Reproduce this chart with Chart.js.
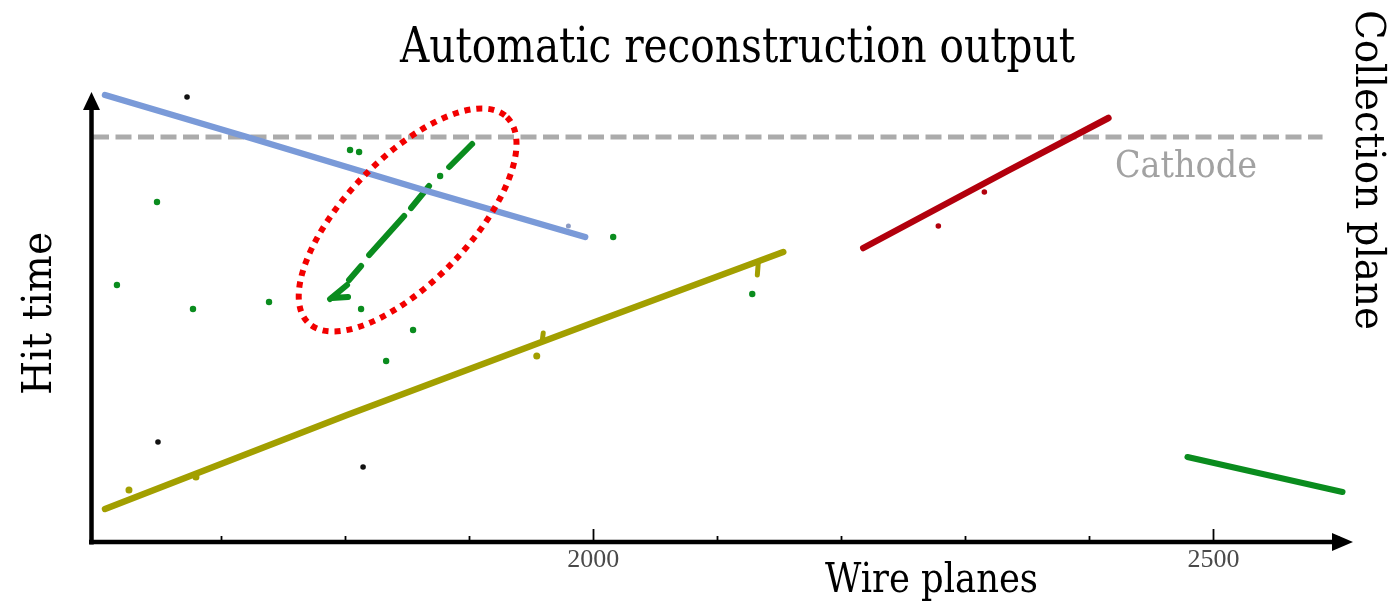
<!DOCTYPE html>
<html>
<head>
<meta charset="utf-8">
<script src="https://cdn.jsdelivr.net/npm/chart.js@4.4.1/dist/chart.umd.min.js"></script>
<style>
  html, body { margin: 0; padding: 0; background: #ffffff; }
  #wrap { width: 1397px; height: 603px; position: relative; }
</style>
</head>
<body>
<div id="wrap"><canvas id="event"></canvas></div>
<script>
// Wire-number ticks along the horizontal axis (only two carry a label)
const wireTicks = [1700, 1800, 1900, 2000, 2100, 2200, 2300, 2400, 2500, 2600];
const wireTickLabels = [2000, 2500];

// Hit time of the cathode plane
const cathodeTime = 405;

// Reconstructed tracks: wire number vs hit time (null marks a gap between hit clusters)
const blueTrackWire = [1606.5, 1721, 1866, 1993.5];
const blueTrackTime = [447, 405, 351, 305];

const greenShowerWire = [1902.4, 1883.9, null, 1867.7, 1853.2, null, 1847.6, 1819.4, null, 1812.9, 1803.2, null, 1801.6, 1787.9, null, 1789.5, 1802.4];
const greenShowerTime = [398, 375, null, 356, 334, null, 326, 287, null, 276, 262, null, 257, 243, null, 244, 245];

const yellowTrackWire = [1606.5, 1801.6, 2005.6, 2153.2];
const yellowTrackTime = [33, 127, 222, 290];

const yellowStubWire = [1959.7, 1958.9, null, 2133.1, 2132.3];
const yellowStubTime = [209, 201, null, 280, 267];

const redTrackWire = [2217.7, 2333.9, 2415.3];
const redTrackTime = [294, 371, 424];

const greenTrackWire = [2479, 2604];
const greenTrackTime = [85, 50];

// Isolated hits
const greenHitWire = [1876.6, 1804, 1811.3, 1812.9, 1854.8, 1616.1, 1677.4, 1738.7, 1833.1, 1648.4, 2016.1, 2128.2];
const greenHitTime = [366, 392, 390, 233, 212, 257, 233, 240, 181, 340, 305, 248];

const yellowHitWire = [1625.8, 1679.8, 1954.5];
const yellowHitTime = [52, 65, 186];

const redHitWire = [2315.3, 2278.2];
const redHitTime = [350, 316];

const blueHitWire = [1980];
const blueHitTime = [316];

const blackHitWire = [1672.6, 1649.2, 1814.5];
const blackHitTime = [445, 100, 75];

const COLORS = {
  blue: '#7a9ad8',
  green: '#0a8c1e',
  yellow: '#a29f00',
  red: '#b2000d',
  black: '#111111'
};

function points(wires, times) {
  return wires.map((w, i) => ({ x: w, y: times[i] }));
}

function track(wires, times, color, width) {
  return {
    data: points(wires, times),
    showLine: true,
    spanGaps: false,
    borderColor: color,
    backgroundColor: color,
    borderWidth: width,
    borderCapStyle: 'round',
    borderJoinStyle: 'round',
    pointRadius: 0,
    tension: 0,
    clip: false
  };
}

function hits(wires, times, color, radius) {
  return {
    data: points(wires, times),
    showLine: false,
    backgroundColor: color,
    borderColor: color,
    borderWidth: 0,
    pointRadius: radius,
    pointHoverRadius: radius,
    clip: false
  };
}

// Text helper: draws text squeezed/stretched to a given width
function fittedText(ctx, text, x, y, o) {
  ctx.save();
  ctx.font = `${o.weight || 'normal'} ${o.size}px ${o.family}`;
  const w = ctx.measureText(text).width;
  ctx.translate(x, y);
  if (o.rotate) ctx.rotate(o.rotate);
  ctx.scale(o.width / w, 1);
  ctx.textAlign = 'center';
  ctx.textBaseline = 'alphabetic';
  ctx.fillStyle = o.color;
  ctx.fillText(text, 0, 0);
  ctx.restore();
}

const SERIF = '"DejaVu Serif", "Liberation Serif", serif';

// Cathode line sits behind the tracks
const cathodePlugin = {
  id: 'cathode',
  beforeDatasetsDraw(chart) {
    const { ctx, scales: { x, y } } = chart;
    const py = y.getPixelForValue(cathodeTime);
    ctx.save();
    ctx.strokeStyle = '#ababab';
    ctx.lineWidth = 5;
    ctx.setLineDash([16, 6.5]);
    ctx.beginPath();
    ctx.moveTo(x.left + 1, py);
    ctx.lineTo(x.getPixelForValue(2587.9), py);
    ctx.stroke();
    ctx.restore();
    fittedText(ctx, 'Cathode', 1186, 177, { size: 37, width: 142, family: SERIF, color: '#a2a2a2' });
  }
};

// Axes with arrowheads, tick marks, highlight ellipse and the text labels
const framePlugin = {
  id: 'frame',
  afterDatasetsDraw(chart) {
    const { ctx, scales: { x, y } } = chart;

    // dotted ellipse around the shower
    const cx = x.getPixelForValue(1850.4);
    const cy = y.getPixelForValue(322);
    ctx.save();
    ctx.strokeStyle = '#f20000';
    ctx.lineWidth = 6;
    ctx.setLineDash([6, 6]);
    ctx.beginPath();
    ctx.ellipse(cx, cy, 143, 62, -46 * Math.PI / 180, 0, Math.PI * 2);
    ctx.stroke();
    ctx.restore();
  },
  afterDraw(chart) {
    const { ctx, scales: { x, y } } = chart;
    const ax = x.left - 0.5;
    const ay = y.bottom;
    ctx.save();
    ctx.strokeStyle = '#000';
    ctx.fillStyle = '#000';
    ctx.lineWidth = 4.5;
    ctx.lineCap = 'butt';
    // vertical axis
    ctx.beginPath();
    ctx.moveTo(ax, ay + 2.5);
    ctx.lineTo(ax, y.top + 12);
    ctx.stroke();
    ctx.beginPath();
    ctx.moveTo(ax, y.top - 3);
    ctx.lineTo(ax - 8.5, y.top + 15);
    ctx.lineTo(ax + 8.5, y.top + 15);
    ctx.closePath();
    ctx.fill();
    // horizontal axis
    ctx.beginPath();
    ctx.moveTo(ax - 2.5, ay);
    ctx.lineTo(x.right - 8, ay);
    ctx.stroke();
    ctx.beginPath();
    ctx.moveTo(x.right + 8, ay);
    ctx.lineTo(x.right - 13, ay - 9);
    ctx.lineTo(x.right - 13, ay + 9);
    ctx.closePath();
    ctx.fill();
    // tick marks pointing into the plot
    ctx.lineWidth = 1.8;
    wireTicks.forEach(v => {
      const px = Math.round(x.getPixelForValue(v)) + 0.5;
      const len = wireTickLabels.includes(v) ? 13 : 6;
      ctx.beginPath();
      ctx.moveTo(px, ay);
      ctx.lineTo(px, ay - len);
      ctx.stroke();
    });
    ctx.restore();

    fittedText(ctx, 'Automatic reconstruction output', 737.5, 62, { size: 48, width: 675, family: SERIF, color: '#000' });
    fittedText(ctx, 'Wire planes', 931.5, 592, { size: 41, width: 213, family: SERIF, color: '#000' });
    fittedText(ctx, 'Hit time', 51, 313.5, { size: 41, width: 163, family: SERIF, color: '#000', rotate: -Math.PI / 2 });
    fittedText(ctx, 'Collection plane', 1356, 170, { size: 41, width: 320, family: SERIF, color: '#000', rotate: Math.PI / 2 });
  }
};

new Chart(document.getElementById('event'), {
  type: 'scatter',
  data: {
    datasets: [
      track(blueTrackWire, blueTrackTime, COLORS.blue, 6.5),
      track(yellowTrackWire, yellowTrackTime, COLORS.yellow, 6.5),
      track(yellowStubWire, yellowStubTime, COLORS.yellow, 5),
      track(redTrackWire, redTrackTime, COLORS.red, 6.5),
      track(greenTrackWire, greenTrackTime, COLORS.green, 6),
      track(greenShowerWire, greenShowerTime, COLORS.green, 6),
      hits(greenHitWire, greenHitTime, COLORS.green, 3.2),
      hits(yellowHitWire, yellowHitTime, COLORS.yellow, 3.5),
      hits(redHitWire, redHitTime, COLORS.red, 2.8),
      hits(blueHitWire, blueHitTime, '#8c9bc4', 2.5),
      hits(blackHitWire, blackHitTime, COLORS.black, 2.8)
    ]
  },
  options: {
    responsive: true,
    maintainAspectRatio: false,
    animation: false,
    events: [],
    layout: { padding: { left: 92, right: 52, top: 95, bottom: 0 } },
    plugins: {
      legend: { display: false },
      title: { display: false },
      tooltip: { enabled: false }
    },
    scales: {
      x: {
        type: 'linear',
        min: 1596,
        max: 2606,
        grid: { display: false, drawTicks: false },
        border: { display: false },
        afterBuildTicks(scale) { scale.ticks = wireTicks.map(v => ({ value: v })); },
        afterFit(scale) { scale.height = 61; },
        ticks: {
          autoSkip: false,
          maxRotation: 0,
          padding: 3,
          color: '#4a4a4a',
          font: { family: '"Liberation Serif", serif', size: 26 },
          callback: v => wireTickLabels.includes(v) ? String(v) : ''
        }
      },
      y: {
        type: 'linear',
        display: false,
        min: 0,
        max: 447
      }
    }
  },
  plugins: [cathodePlugin, framePlugin]
});
</script>
</body>
</html>
